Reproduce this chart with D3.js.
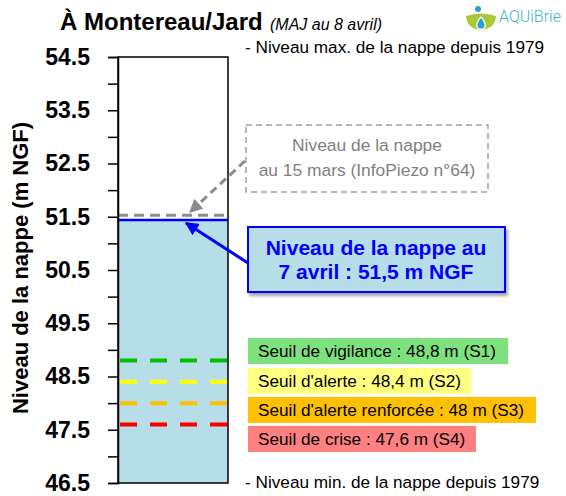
<!DOCTYPE html>
<html>
<head>
<meta charset="utf-8">
<script src="https://cdn.jsdelivr.net/npm/d3@7"></script>
<style>
	body { margin: 0; background: #fff; }
	svg { font-family: "Liberation Sans", Arial, sans-serif; }
</style>
</head>
<body>
<svg width="566" height="496"></svg>
<script>
// axis
var yMin = 46.5, yMax = 54.5
var tickValues = [46.5, 47, 47.5, 48, 48.5, 49, 49.5, 50, 50.5, 51, 51.5, 52, 52.5, 53, 53.5, 54, 54.5]
var tickLabels = ["46.5", "", "47.5", "", "48.5", "", "49.5", "", "50.5", "", "51.5", "", "52.5", "", "53.5", "", "54.5"]

// levels
var currentLevel = 51.44
var previousLevel = 51.53

// thresholds
var seuilNames = ["Seuil de vigilance : 48,8 m (S1)", "Seuil d'alerte : 48,4 m (S2)", "Seuil d'alerte renforcée : 48 m (S3)", "Seuil de crise : 47,6 m (S4)"]
var seuilValues = [48.8, 48.4, 48, 47.6]
var seuilLineColors = ["#00c000", "#ffff00", "#ffc000", "#ff0000"]
var seuilBoxColors = ["#7de27d", "#ffff80", "#ffc000", "#ff8080"]

function main() {
	var svg = d3.select("svg")

	var yScale = d3.scaleLinear().domain([yMin, yMax]).range([483, 57])
	var xScale = d3.scaleLinear().domain([0, 1]).range([118, 228])

	var defs = svg.append("defs")
	var shadow = defs.append("filter").attr("id", "shadow")
		.attr("x", "-10%").attr("y", "-10%").attr("width", "130%").attr("height", "140%")
	shadow.append("feDropShadow")
		.attr("dx", 2).attr("dy", 3).attr("stdDeviation", 1.5)
		.attr("flood-color", "#000").attr("flood-opacity", 0.35)

	function marker(id, color) {
		defs.append("marker")
			.attr("id", id)
			.attr("viewBox", "0 0 10 10")
			.attr("refX", 9).attr("refY", 5)
			.attr("markerWidth", 4.5).attr("markerHeight", 4.5)
			.attr("markerUnits", "strokeWidth")
			.attr("orient", "auto")
			.append("path")
			.attr("d", "M0,0 L10,5 L0,10 z")
			.attr("fill", color)
	}
	marker("arrowGray", "#8c8c8c")
	marker("arrowBlue", "#0000ff")

	// title
	svg.append("text")
		.attr("x", 60).attr("y", 30)
		.attr("font-size", 24).attr("font-weight", "bold")
		.attr("fill", "#000")
		.text("À Montereau/Jard")
	svg.append("text")
		.attr("x", 270).attr("y", 30)
		.attr("font-size", 16).attr("font-style", "italic")
		.text("(MAJ au 8 avril)")

	// logo
	var logo = svg.append("g").attr("transform", "translate(466,5)")
	logo.append("path")
		.attr("d", "M0,11 Q15,6 30,11 Q29,24 15,25 Q1,24 0,11 z")
		.attr("fill", "#a9c83a")
	logo.append("path")
		.attr("d", "M15,11 Q20,17 20,20 A5,5 0 1 1 10,20 Q10,17 15,11 z")
		.attr("fill", "#fff")
	logo.append("path")
		.attr("d", "M15,13 Q18.5,17.5 18.5,20 A3.5,3.5 0 1 1 11.5,20 Q11.5,17.5 15,13 z")
		.attr("fill", "#2a9fc8")
	logo.append("circle").attr("cx", 12).attr("cy", 4).attr("r", 3).attr("fill", "#2a9fc8")
	logo.append("text")
		.attr("x", 33).attr("y", 17)
		.attr("font-family", "Roboto").attr("font-weight", 300)
		.attr("font-size", 16).attr("fill", "#3ab5c9")
		.text("AQUiBrie")

	// bar
	svg.append("rect")
		.attr("x", xScale(0)).attr("y", yScale(yMax))
		.attr("width", xScale(1) - xScale(0))
		.attr("height", yScale(yMin) - yScale(yMax))
		.attr("fill", "#fff")
	svg.append("rect")
		.attr("x", xScale(0)).attr("y", yScale(currentLevel))
		.attr("width", xScale(1) - xScale(0))
		.attr("height", yScale(yMin) - yScale(currentLevel))
		.attr("fill", "#b7dde8")

	// threshold lines
	svg.selectAll(".seuil")
		.data(seuilValues)
		.enter().append("line")
		.attr("class", "seuil")
		.attr("x1", xScale(0) + 2).attr("x2", xScale(1))
		.attr("y1", d => yScale(d)).attr("y2", d => yScale(d))
		.attr("stroke", (d, i) => seuilLineColors[i])
		.attr("stroke-width", 4)
		.attr("stroke-dasharray", "17,13")

	// previous level (dashed gray)
	svg.append("line")
		.attr("x1", xScale(0)).attr("x2", xScale(1))
		.attr("y1", yScale(previousLevel)).attr("y2", yScale(previousLevel))
		.attr("stroke", "#8c8c8c").attr("stroke-width", 3)
		.attr("stroke-dasharray", "10,6")

	// current level
	svg.append("line")
		.attr("x1", xScale(0)).attr("x2", xScale(1))
		.attr("y1", yScale(currentLevel)).attr("y2", yScale(currentLevel))
		.attr("stroke", "#0000ff").attr("stroke-width", 2.5)

	// bar frame
	svg.append("rect")
		.attr("x", xScale(0)).attr("y", yScale(yMax))
		.attr("width", xScale(1) - xScale(0))
		.attr("height", yScale(yMin) - yScale(yMax))
		.attr("fill", "none").attr("stroke", "#000").attr("stroke-width", 1.5)

	// axis
	var axis = svg.append("g")
		.attr("transform", "translate(" + xScale(0) + ",0)")
		.call(d3.axisLeft(yScale)
			.tickValues(tickValues)
			.tickFormat((d, i) => tickLabels[i])
			.tickSize(10)
			.tickPadding(18))
	axis.select(".domain").attr("stroke-width", 1.5)
	axis.selectAll(".tick line").attr("stroke-width", 1.5)
	axis.selectAll("text")
		.attr("font-family", "Liberation Sans, Arial, sans-serif")
		.attr("font-size", 23).attr("font-weight", "bold").attr("fill", "#000")

	svg.append("text")
		.attr("transform", "translate(28,268) rotate(-90)")
		.attr("text-anchor", "middle")
		.attr("font-size", 22).attr("font-weight", "bold")
		.text("Niveau de la nappe (m NGF)")

	// max / min labels
	svg.append("text")
		.attr("x", 245).attr("y", 53)
		.attr("font-size", 17.2)
		.text("- Niveau max. de la nappe depuis 1979")
	svg.append("text")
		.attr("x", 245).attr("y", 488)
		.attr("font-size", 17.2)
		.text("- Niveau min. de la nappe depuis 1979")

	// threshold label boxes
	var boxY = [338, 368, 397, 426]
	var boxW = [260, 223, 288, 228]
	var lab = svg.selectAll(".seuilLab")
		.data(seuilNames)
		.enter().append("g")
		.attr("class", "seuilLab")
		.attr("transform", (d, i) => "translate(248," + boxY[i] + ")")
	lab.append("rect")
		.attr("width", (d, i) => boxW[i]).attr("height", 26)
		.attr("fill", (d, i) => seuilBoxColors[i])
	lab.append("text")
		.attr("x", 10).attr("y", 19)
		.attr("font-size", 17.2)
		.text(d => d)

	// gray annotation
	svg.append("rect")
		.attr("x", 246).attr("y", 125).attr("width", 242).attr("height", 67)
		.attr("fill", "#fff").attr("stroke", "#a0a0a0").attr("stroke-width", 1.5)
		.attr("stroke-dasharray", "6,4")
	svg.append("text")
		.attr("x", 367).attr("y", 151).attr("text-anchor", "middle")
		.attr("font-size", 17.4).attr("fill", "#7f7f7f")
		.text("Niveau de la nappe")
	svg.append("text")
		.attr("x", 367).attr("y", 176).attr("text-anchor", "middle")
		.attr("font-size", 17.4).attr("fill", "#7f7f7f")
		.text("au 15 mars (InfoPiezo n°64)")
	svg.append("line")
		.attr("x1", 245).attr("y1", 161).attr("x2", 190).attr("y2", 212)
		.attr("stroke", "#8c8c8c").attr("stroke-width", 3)
		.attr("stroke-dasharray", "8,5")
		.attr("marker-end", "url(#arrowGray)")

	// blue annotation
	svg.append("rect")
		.attr("x", 248).attr("y", 227).attr("width", 257).attr("height", 65)
		.attr("fill", "#b7dde8").attr("stroke", "#0000ff").attr("stroke-width", 2)
		.attr("filter", "url(#shadow)")
	svg.append("text")
		.attr("x", 376).attr("y", 255).attr("text-anchor", "middle")
		.attr("font-size", 21).attr("font-weight", "bold").attr("fill", "#0000ff")
		.text("Niveau de la nappe au")
	svg.append("text")
		.attr("x", 376).attr("y", 279).attr("text-anchor", "middle")
		.attr("font-size", 21).attr("font-weight", "bold").attr("fill", "#0000ff")
		.text("7 avril : 51,5 m NGF")
	svg.append("line")
		.attr("x1", 248).attr("y1", 263).attr("x2", 186).attr("y2", 223)
		.attr("stroke", "#0000ff").attr("stroke-width", 3)
		.attr("marker-end", "url(#arrowBlue)")
}
main()
</script>
</body>
</html>
